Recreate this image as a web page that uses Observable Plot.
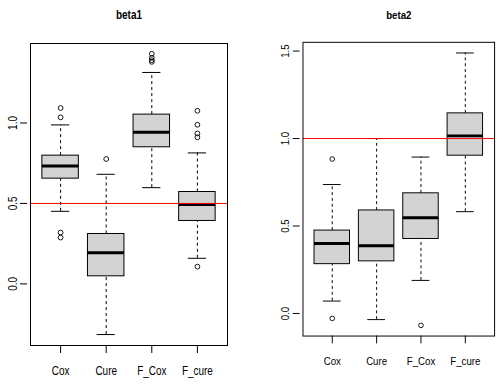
<!DOCTYPE html>
<html>
<head>
<meta charset="utf-8">
<script src="https://cdn.jsdelivr.net/npm/d3@7"></script>
<script src="https://cdn.jsdelivr.net/npm/@observablehq/plot@0.6"></script>
<style>
  html, body { margin: 0; padding: 0; background: #fff; overflow: hidden; }
  #wrap { position: relative; width: 498px; height: 385px; overflow: hidden; background: #fff; }
  #p1, #p2 { position: absolute; top: 0; }
  #p1 { left: 0; }
  #p2 { left: 249px; }
  svg { font-family: "Liberation Sans", Arial, Helvetica, sans-serif; }
</style>
</head>
<body>
<div id="wrap"><div id="p1"></div><div id="p2"></div></div>
<script>
const categories = ["Cox", "Cure", "F_Cox", "F_cure"];

// beta1 box statistics (per category)
const beta1Low    = [0.451, -0.315, 0.598, 0.159];
const beta1Q1     = [0.654,  0.047, 0.849, 0.391];
const beta1Median = [0.733,  0.194, 0.942, 0.493];
const beta1Q3     = [0.797,  0.310, 1.052, 0.571];
const beta1High   = [0.988,  0.681, 1.314, 0.814];
const beta1Outliers = [
  [1.093, 1.035, 0.319, 0.288],
  [0.776],
  [1.430, 1.405, 1.390, 1.380],
  [1.076, 0.989, 0.935, 0.911, 0.107]
];
const beta1Truth = 0.5;
const beta1Ticks = [0, 0.5, 1.0];

// beta2 box statistics (per category)
const beta2Low    = [0.071, -0.035, 0.189, 0.582];
const beta2Q1     = [0.282,  0.298, 0.426, 0.902];
const beta2Median = [0.400,  0.387, 0.547, 1.015];
const beta2Q3     = [0.474,  0.589, 0.687, 1.144];
const beta2High   = [0.737,  1.000, 0.894, 1.489];
const beta2Outliers = [
  [0.883, -0.028],
  [],
  [-0.068],
  []
];
const beta2Truth = 1.0;
const beta2Ticks = [0, 0.5, 1.0, 1.5];

function makePanel({title, low, q1, med, q3, high, outliers, truth, ticks, yDomain, marginLeft, width}) {
  const boxes = categories.map((c, i) => ({
    i: i + 1, name: c, low: low[i], q1: q1[i], med: med[i], q3: q3[i], high: high[i]
  }));
  const outs = outliers.flatMap((arr, i) => arr.map(v => ({i: i + 1, v})));
  const plotW = 197;
  const svg = Plot.plot({
    width,
    height: 385,
    marginLeft,
    marginRight: width - marginLeft - plotW,
    marginTop: 43,
    marginBottom: 40,
    style: {fontSize: "12px", background: "white", overflow: "visible"},
    x: {domain: [0.34, 4.66], axis: null, label: null},
    y: {domain: yDomain, axis: null, label: null},
    marks: [
      // dashed whiskers
      Plot.ruleX(boxes, {x: "i", y1: "q3", y2: "high", stroke: "black", strokeDasharray: "3,3"}),
      Plot.ruleX(boxes, {x: "i", y1: "low", y2: "q1", stroke: "black", strokeDasharray: "3,3"}),
      // whisker caps
      Plot.ruleY(boxes, {y: "high", x1: d => d.i - 0.2, x2: d => d.i + 0.2, stroke: "black"}),
      Plot.ruleY(boxes, {y: "low", x1: d => d.i - 0.2, x2: d => d.i + 0.2, stroke: "black"}),
      // boxes
      Plot.rect(boxes, {x1: d => d.i - 0.4, x2: d => d.i + 0.4, y1: "q1", y2: "q3", fill: "#d3d3d3", stroke: "black", strokeWidth: 1}),
      // medians
      Plot.ruleY(boxes, {y: "med", x1: d => d.i - 0.4, x2: d => d.i + 0.4, stroke: "black", strokeWidth: 3}),
      // outliers
      Plot.dot(outs, {x: "i", y: "v", r: 2.4, stroke: "black", fill: "none", strokeWidth: 0.9}),
      // reference line
      Plot.ruleY([truth], {stroke: "#ff0000", strokeWidth: 1}),
      Plot.frame({stroke: "black", strokeWidth: 1}),
      Plot.axisY(ticks, {label: null, tickSize: 7, tickPadding: 4, tickRotate: -90, tickFormat: d => d.toFixed(1), fontSize: 12, textAnchor: "middle", dx: -3}),
      Plot.axisX([1, 2, 3, 4], {label: null, tickSize: 8, tickPadding: 13, tickFormat: d => categories[d - 1], fontSize: 12}),
      Plot.text([title], {frameAnchor: "top", dy: -33, fontWeight: "bold", fontSize: 12, fill: "black"})
    ]
  });
  // condense the text horizontally (R output in the reference is narrow)
  svg.querySelectorAll("text").forEach(t => {
    const tr = t.getAttribute("transform");
    if (tr && !t.hasAttribute("x")) t.setAttribute("transform", tr + " scale(0.83,1)");
  });
  return svg;
}

document.getElementById("p1").appendChild(makePanel({
  title: "beta1", low: beta1Low, q1: beta1Q1, med: beta1Median, q3: beta1Q3, high: beta1High,
  outliers: beta1Outliers, truth: beta1Truth, ticks: beta1Ticks,
  yDomain: [-0.383, 1.494], marginLeft: 30, width: 249
}));
document.getElementById("p2").appendChild(makePanel({
  title: "beta2", low: beta2Low, q1: beta2Q1, med: beta2Median, q3: beta2Q3, high: beta2High,
  outliers: beta2Outliers, truth: beta2Truth, ticks: beta2Ticks,
  yDomain: [-0.129, 1.55], marginLeft: 55, width: 256
}));
</script>
</body>
</html>
